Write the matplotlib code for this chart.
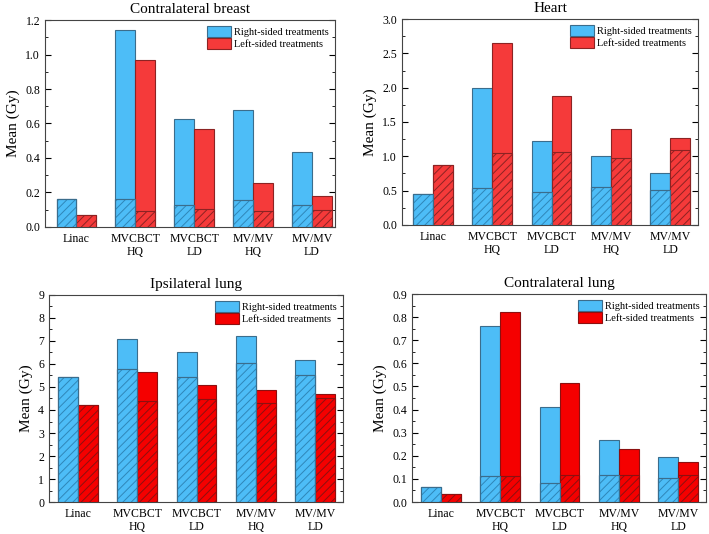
import numpy as np
import matplotlib
matplotlib.use("Agg")
import matplotlib.pyplot as plt
from matplotlib.ticker import MultipleLocator, AutoMinorLocator, FormatStrFormatter

plt.rcParams['font.family'] = ['Liberation Serif', 'DejaVu Serif']
plt.rcParams['hatch.linewidth'] = 0.7

categories = ["Linac", "MVCBCT\nHQ", "MVCBCT\nLD", "MV/MV\nHQ", "MV/MV\nLD"]

# contralateral breast
cb_right = [0.163, 1.14, 0.625, 0.68, 0.437]
cb_right_low = [0.163, 0.16, 0.13, 0.158, 0.13]
cb_left = [0.072, 0.968, 0.567, 0.253, 0.178]
cb_left_low = [0.072, 0.092, 0.102, 0.095, 0.10]

# heart
ht_right = [0.45, 2.0, 1.23, 1.0, 0.76]
ht_right_low = [0.45, 0.54, 0.48, 0.56, 0.51]
ht_left = [0.88, 2.65, 1.88, 1.40, 1.27]
ht_left_low = [0.88, 1.05, 1.07, 0.97, 1.09]

# ipsilateral lung
il_right = [5.45, 7.1, 6.52, 7.22, 6.17]
il_right_low = [5.45, 5.78, 5.43, 6.03, 5.52]
il_left = [4.2, 5.65, 5.1, 4.87, 4.7]
il_left_low = [4.2, 4.4, 4.48, 4.32, 4.52]

# contralateral lung
cl_right = [0.066, 0.76, 0.413, 0.27, 0.195]
cl_right_low = [0.066, 0.113, 0.083, 0.117, 0.105]
cl_left = [0.035, 0.822, 0.517, 0.23, 0.174]
cl_left_low = [0.035, 0.113, 0.118, 0.118, 0.118]

blue = "#4dbdf7"
blue_hatch = "#2f86b8"
blue_edge = "#3b6d8c"

fig = plt.figure(figsize=(7.09, 5.34), dpi=100)


def panel(rect, title, right, right_low, left, left_low, ymax, major, red, red_edge, xlim):
    ax = fig.add_axes(rect)
    x = np.arange(1, len(categories) + 1)
    w = 0.335
    ax.bar(x - w / 2, right, w, color=blue, edgecolor=blue_edge, linewidth=0.8,
           label="Right-sided treatments", zorder=2)
    ax.bar(x - w / 2, right_low, w, color=blue, edgecolor=blue_hatch, hatch="////",
           linewidth=0.8, zorder=3)
    ax.bar(x - w / 2, right_low, w, fill=False, edgecolor=blue_edge, linewidth=0.8, zorder=4)
    ax.bar(x + w / 2, left, w, color=red, edgecolor=red_edge, linewidth=0.8,
           label="Left-sided treatments", zorder=2)
    ax.bar(x + w / 2, left_low, w, color=red, edgecolor=red_edge, hatch="////",
           linewidth=0.8, zorder=3)
    ax.set_xlim(*xlim)
    ax.set_ylim(0, ymax)
    ax.set_xticks(x)
    ax.set_xticklabels(categories, fontsize=8.5, linespacing=1.15)
    ax.tick_params(axis='x', length=0, pad=4)
    ax.yaxis.set_major_locator(MultipleLocator(major))
    ax.yaxis.set_minor_locator(AutoMinorLocator(2))
    ax.tick_params(axis='y', which='both', direction='in', right=True, labelsize=8.5)
    ax.tick_params(axis='y', which='major', length=4)
    ax.tick_params(axis='y', which='minor', length=2)
    for s in ax.spines.values():
        s.set_color("#444444")
        s.set_linewidth(0.8)
    ax.set_ylabel("Mean (Gy)", fontsize=11)
    ax.set_title(title, fontsize=11, pad=5)
    ax.legend(loc="upper right", frameon=False, fontsize=7.5, handlelength=2.3,
              handleheight=1.2, labelspacing=0.1, handletextpad=0.3,
              borderaxespad=0.3, borderpad=0.3)
    return ax


panel([0.0635, 0.575, 0.409, 0.3875], "Contralateral breast", cb_right, cb_right_low,
      cb_left, cb_left_low, 1.2, 0.2, "#f53a3a", "#8c2323", (0.47, 5.39))
ax2 = panel([0.567, 0.5787, 0.4175, 0.3857], "Heart", ht_right, ht_right_low,
            ht_left, ht_left_low, 3.0, 0.5, "#f53a3a", "#8c2323", (0.477, 5.47))
ax2.yaxis.set_major_formatter(FormatStrFormatter("%.1f"))
panel([0.0691, 0.0599, 0.4147, 0.3877], "Ipsilateral lung", il_right, il_right_low,
      il_left, il_left_low, 9, 1, "#f50000", "#8c1010", (0.51, 5.47))
panel([0.581, 0.0599, 0.4147, 0.3895], "Contralateral lung", cl_right, cl_right_low,
      cl_left, cl_left_low, 0.9, 0.1, "#f50000", "#8c1010", (0.51, 5.47))

fig.savefig("out.png", dpi=100)
